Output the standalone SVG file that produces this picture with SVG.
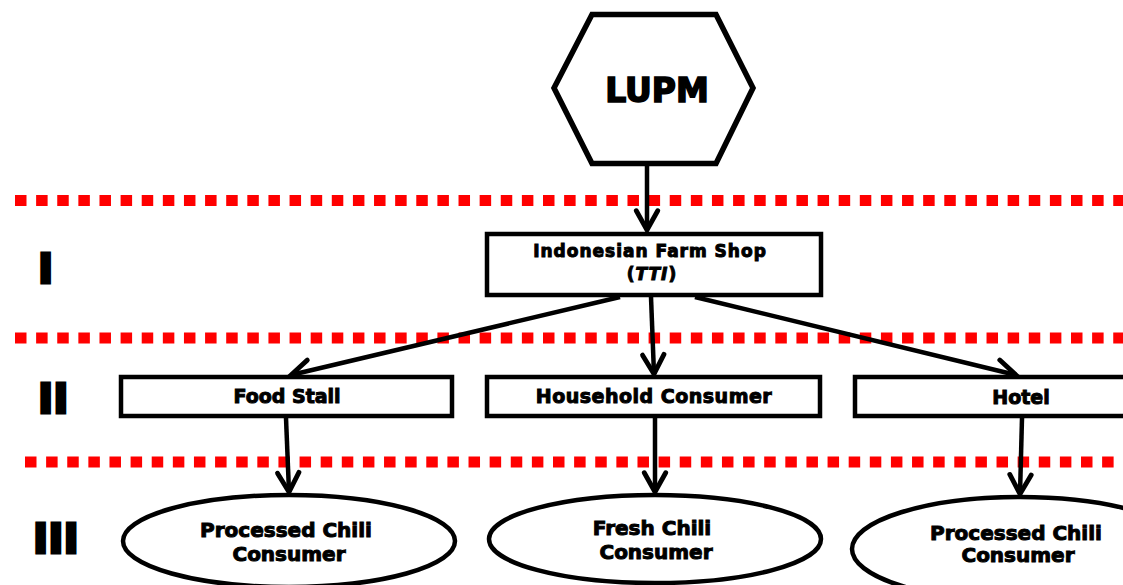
<svg xmlns="http://www.w3.org/2000/svg" width="1123" height="585" viewBox="0 0 1123 585">
  <style>
    .t { font-family: "DejaVu Sans", "Liberation Sans", sans-serif; font-weight: bold; fill: #000; stroke: #000; stroke-width: 1; text-anchor: middle; }
    .num { font-family: "DejaVu Sans", "Liberation Sans", sans-serif; font-weight: bold; font-size: 41px; fill: #000; stroke: #000; stroke-width: 3; }
    .box { fill: #fff; stroke: #000; stroke-width: 4.5; }
    .ell { fill: #fff; stroke: #000; stroke-width: 4.5; }
    .sep { stroke: #ff0000; stroke-width: 11; stroke-dasharray: 11.5 9.62; fill: none; }
    .edge { stroke: #000; stroke-width: 4.5; fill: none; marker-end: url(#arr); }
  </style>
  <defs>
    <marker id="arr" markerUnits="userSpaceOnUse" markerWidth="30" markerHeight="30" viewBox="-22 -14 26 28" refX="0" refY="0" orient="auto">
      <path d="M-18,-10 L0,0 L-18,10" fill="none" stroke="#000" stroke-width="4.5" stroke-linecap="round" stroke-linejoin="miter"/>
    </marker>
  </defs>
  <rect width="1123" height="585" fill="#fff"/>

  <g id="separators">
    <line class="sep" x1="15" y1="200.5" x2="1123" y2="200.5"/>
    <line class="sep" x1="15" y1="338" x2="1123" y2="338"/>
    <line class="sep" x1="25" y1="462" x2="1115" y2="462"/>
  </g>

  <g id="levels">
    <text class="num" x="38" y="283">I</text>
    <text class="num" x="38" y="413">II</text>
    <text class="num" x="33" y="553">III</text>
  </g>

  <g id="connectors">
    <line class="edge" x1="647" y1="165" x2="647" y2="230"/>
    <line class="edge" x1="620" y1="297" x2="291" y2="375"/>
    <line class="edge" x1="651" y1="297" x2="654" y2="374"/>
    <line class="edge" x1="695" y1="297" x2="1016" y2="375"/>
    <line class="edge" x1="286" y1="418" x2="289" y2="492"/>
    <line class="edge" x1="655" y1="418" x2="655" y2="492"/>
    <line class="edge" x1="1022" y1="418" x2="1020" y2="494"/>
  </g>

  <g id="lupm">
    <polygon points="592,14.5 716,14.5 753,88 716,163.5 592,163.5 554,88" fill="#fff" stroke="#000" stroke-width="5.5" stroke-linejoin="miter"/>
    <text class="t" x="657" y="102" style="font-size:33px; stroke-width:1.6">LUPM</text>
  </g>

  <g id="tti">
    <rect class="box" x="487" y="234" width="334" height="61"/>
    <text class="t" x="650" y="257" style="font-size:17px; letter-spacing:1px">Indonesian Farm Shop</text>
    <text class="t" x="652" y="280" style="font-size:17px; letter-spacing:1px">(<tspan font-style="italic">TTI</tspan>)</text>
  </g>

  <g id="food-stall">
    <rect class="box" x="121" y="377" width="331" height="39"/>
    <text class="t" x="287" y="403" style="font-size:19px">Food Stall</text>
  </g>

  <g id="household">
    <rect class="box" x="487" y="377" width="333" height="39"/>
    <text class="t" x="654" y="403" style="font-size:19px; letter-spacing:0.5px">Household Consumer</text>
  </g>

  <g id="hotel">
    <rect class="box" x="855" y="377" width="300" height="39"/>
    <text class="t" x="1021" y="404" style="font-size:19px">Hotel</text>
  </g>

  <g id="processed-1">
    <ellipse class="ell" cx="289" cy="541" rx="166" ry="46"/>
    <text class="t" x="286" y="537" style="font-size:20px">Processed Chili</text>
    <text class="t" x="289" y="561" style="font-size:20px">Consumer</text>
  </g>

  <g id="fresh">
    <ellipse class="ell" cx="655" cy="539" rx="166" ry="44"/>
    <text class="t" x="652" y="535" style="font-size:20px">Fresh Chili</text>
    <text class="t" x="656" y="559" style="font-size:20px">Consumer</text>
  </g>

  <g id="processed-2">
    <ellipse class="ell" cx="1020" cy="549" rx="168" ry="52"/>
    <text class="t" x="1016" y="540" style="font-size:20px">Processed Chili</text>
    <text class="t" x="1018" y="562" style="font-size:20px">Consumer</text>
  </g>
</svg>
